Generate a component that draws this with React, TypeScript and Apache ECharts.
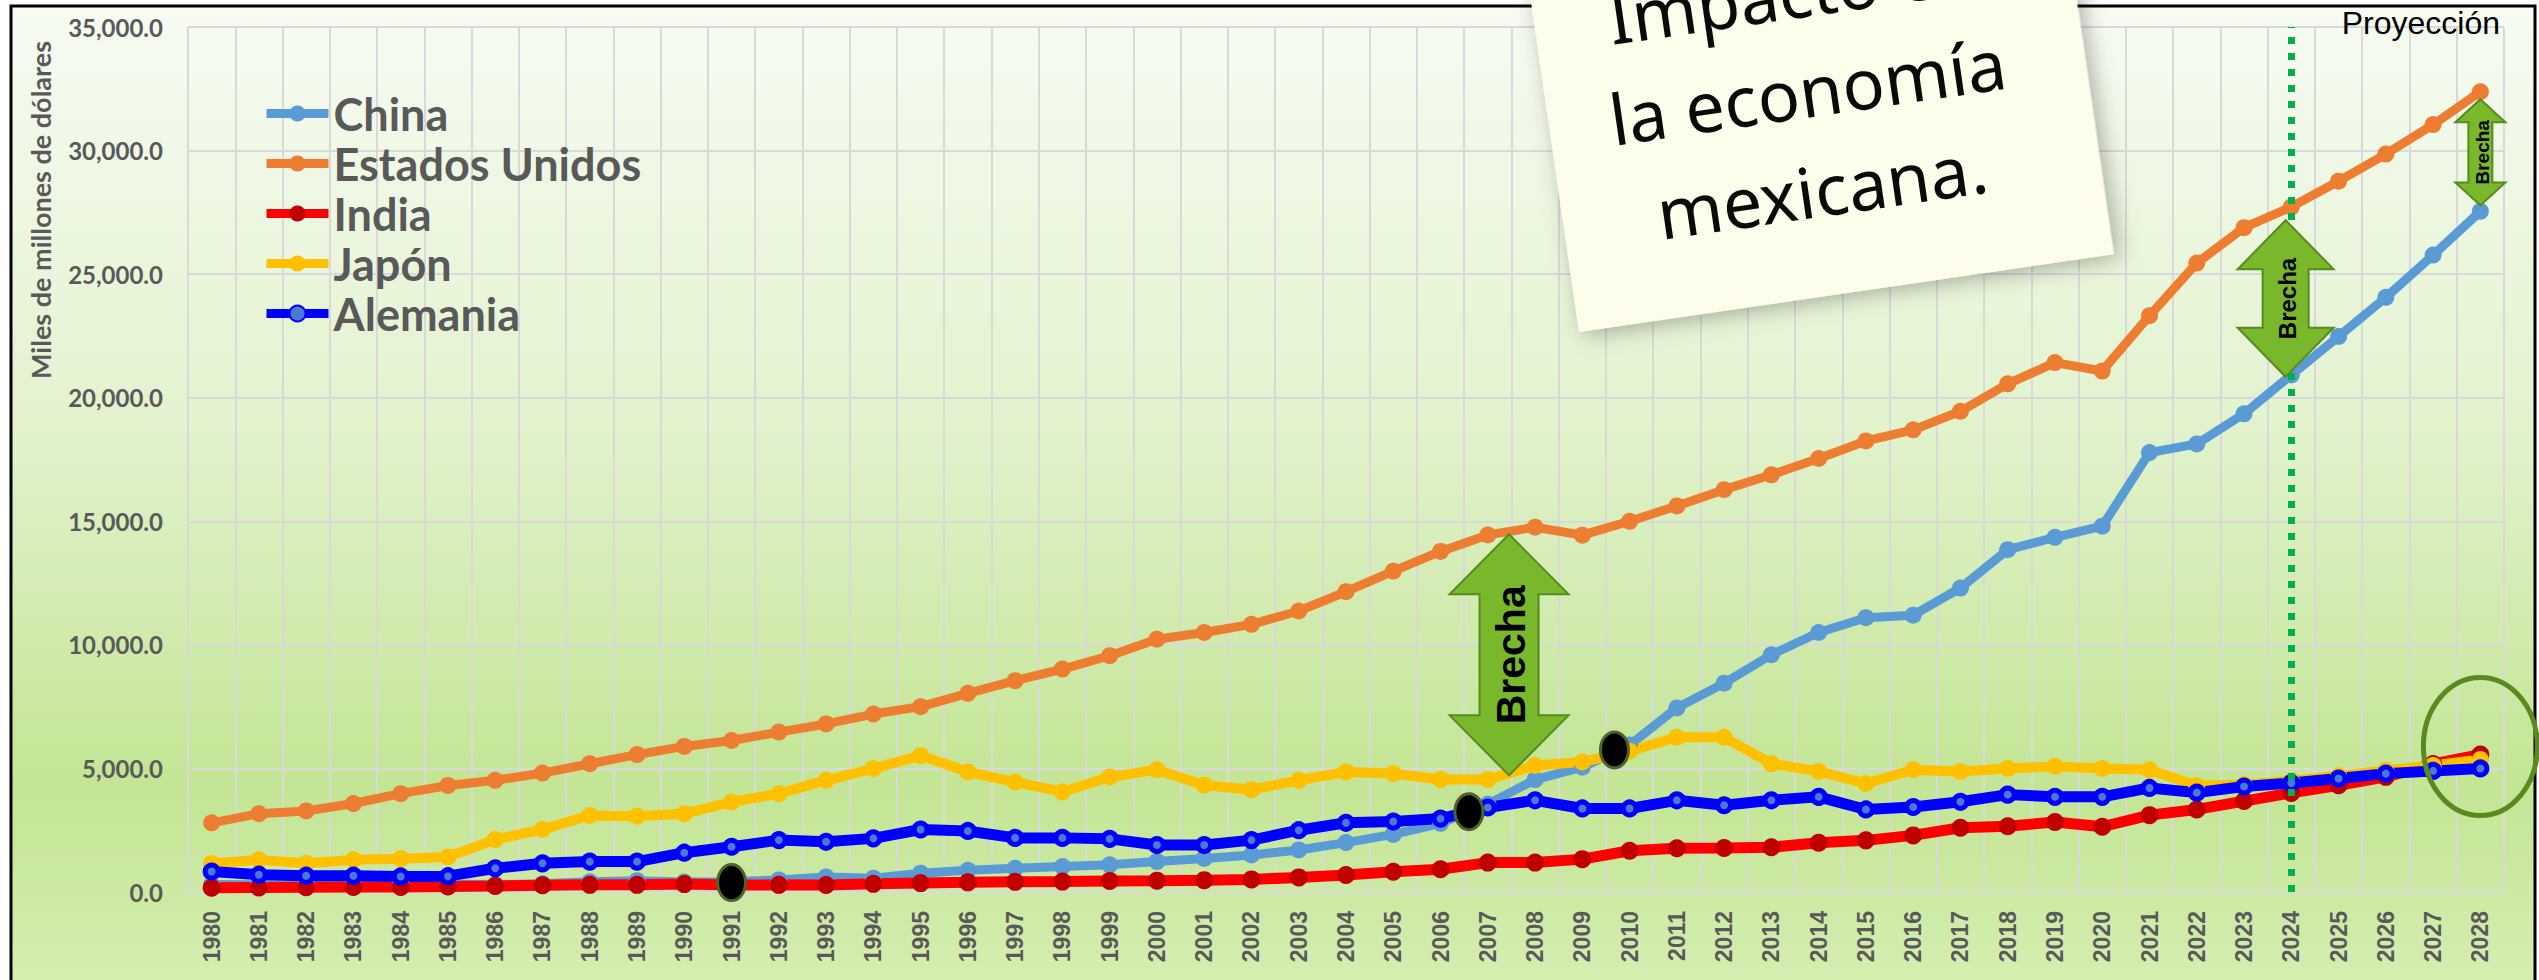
import React, { useEffect, useRef } from "react";
import * as echarts from "echarts";

const years = [
  "1980", "1981", "1982", "1983", "1984", "1985", "1986", "1987", "1988", "1989",
  "1990", "1991", "1992", "1993", "1994", "1995", "1996", "1997", "1998", "1999",
  "2000", "2001", "2002", "2003", "2004", "2005", "2006", "2007", "2008", "2009",
  "2010", "2011", "2012", "2013", "2014", "2015", "2016", "2017", "2018", "2019",
  "2020", "2021", "2022", "2023", "2024", "2025", "2026", "2027", "2028",
];

const china = [
  300, 290, 285, 300, 310, 310, 300, 330, 410, 460,
  400, 410, 490, 610, 560, 760, 880, 960, 1030, 1100,
  1230, 1360, 1500, 1700, 2000, 2330, 2780, 3550, 4550, 5050,
  5950, 7450, 8450, 9600, 10500, 11100, 11200, 12300, 13850, 14350,
  14800, 17780, 18130, 19350, 20920, 22480, 24060, 25770, 27540,
];

const usa = [
  2800, 3170, 3280, 3580, 3980, 4310, 4520, 4810, 5190, 5560,
  5890, 6130, 6470, 6800, 7200, 7500, 8040, 8550, 9020, 9560,
  10230, 10500, 10830, 11370, 12150, 12980, 13780, 14450, 14760, 14440,
  15000, 15620, 16280, 16880, 17540, 18250, 18700, 19450, 20560, 21420,
  21080, 23320, 25450, 26880, 27720, 28760, 29860, 31050, 32380,
];

const india = [
  170, 180, 190, 200, 200, 220, 240, 270, 290, 290,
  320, 280, 290, 280, 330, 360, 390, 410, 420, 450,
  460, 480, 510, 590, 690, 820, 920, 1190, 1190, 1330,
  1670, 1770, 1780, 1810, 1990, 2090, 2290, 2600, 2660, 2830,
  2640, 3110, 3340, 3680, 4010, 4320, 4660, 5180, 5560,
];

const japan = [
  1150, 1300, 1160, 1300, 1350, 1420, 2120, 2530, 3100, 3070,
  3170, 3640, 3980, 4520, 4990, 5520, 4860, 4450, 4050, 4650,
  4950, 4320, 4140, 4520, 4860, 4790, 4550, 4550, 5120, 5260,
  5700, 6260, 6260, 5190, 4880, 4390, 4950, 4880, 5000, 5080,
  5000, 4950, 4300, 4350, 4500, 4700, 4930, 5120, 5360,
];

const germany = [
  830, 700, 660, 660, 630, 640, 960, 1160, 1230, 1230,
  1590, 1830, 2100, 2030, 2170, 2530, 2470, 2190, 2190, 2150,
  1900, 1900, 2100, 2500, 2800, 2850, 2970, 3420, 3710, 3380,
  3380, 3710, 3510, 3710, 3850, 3340, 3440, 3650, 3940, 3850,
  3850, 4210, 4020, 4270, 4410, 4590, 4790, 4900, 5000,
];

const seriesNames = ["China", "Estados Unidos", "India", "Japón", "Alemania"];
const yAxisTitle = "Miles de millones de dólares";
const projectionLabel = "Proyección";
const projectionYear = "2024";
const noteLines = ["Impacto en", "la economía", "mexicana."];
const gapLabel = "Brecha";

// annotation anchors: fractional category index + value
const gapArrowAt = [27.45, 43.88, 48.21];
const gapArrowTop = [14475, 27180, 32080];
const gapArrowBottom = [4720, 20850, 27780];
const crossingAt = [11, 26.6, 29.68];
const crossingValue = [380, 3250, 5750];
const focusAt = 48;
const focusValue = 5887;

const arrowGeom = [
  { headW: 119, shaftW: 59, headH: 60, font: 41 },
  { headW: 96, shaftW: 46, headH: 49, font: 24 },
  { headW: 50, shaftW: 24, headH: 23, font: 19 },
];

const GRAY = "#595959";
const GRID = "#d9d9d9";

export default function App() {
  const ref = useRef<HTMLDivElement>(null);

  useEffect(() => {
    if (!ref.current) return;
    const chart = echarts.init(ref.current, null, { renderer: "svg" });

    const mk = (
      name: string,
      data: number[],
      color: string,
      lineW: number,
      symSize: number,
      itemStyle: any,
      extra: any = {}
    ) => ({
      name,
      type: "line",
      data,
      symbol: "circle",
      symbolSize: symSize,
      color,
      lineStyle: { color, width: lineW },
      itemStyle,
      z: 2,
      ...extra,
    });

    const option: any = {
      animation: false,
      backgroundColor: "#ffffff",
      grid: { left: 188, right: 35, top: 27, bottom: 88, containLabel: false },
      legend: {
        orient: "vertical",
        left: 257,
        top: 85,
        itemWidth: 62,
        itemHeight: 20,
        itemGap: 3,
        data: seriesNames,
        lineStyle: { width: 9 },
        textStyle: {
          fontFamily: "Lato",
          fontWeight: "bold",
          fontSize: 45,
          lineHeight: 47,
          color: GRAY,
        },
      },
      xAxis: {
        type: "category",
        data: years,
        boundaryGap: true,
        axisLine: { show: true, lineStyle: { color: GRID, width: 2 } },
        axisTick: { show: false },
        splitLine: { show: true, interval: 0, lineStyle: { color: GRID, width: 2 } },
        axisLabel: {
          interval: 0,
          rotate: 90,
          margin: 19,
          fontFamily: "Liberation Sans",
          fontWeight: "bold",
          fontSize: 23,
          color: GRAY,
        },
      },
      yAxis: {
        type: "value",
        min: 0,
        max: 35000,
        interval: 5000,
        axisLine: { show: false },
        axisTick: { show: false },
        splitLine: { show: true, lineStyle: { color: GRID, width: 2 } },
        axisLabel: {
          margin: 25,
          fontFamily: "Lato",
          fontWeight: "bold",
          fontSize: 24,
          color: GRAY,
          formatter: (v: number) =>
            v.toLocaleString("en-US", { minimumFractionDigits: 1, maximumFractionDigits: 1 }),
        },
      },
      series: [
        mk("China", china, "#5b9bd5", 9, 17, { color: "#5b9bd5" }, {
          markLine: {
            silent: true,
            symbol: ["none", "none"],
            label: { show: false },
            lineStyle: { color: "#00b050", width: 7, type: [7, 9] },
            data: [{ xAxis: projectionYear }],
            z: 5,
          },
        }),
        mk("Estados Unidos", usa, "#ed7d31", 9, 17, { color: "#ed7d31" }),
        mk("India", india, "#ff0000", 11, 18, { color: "#c00000" }),
        mk("Japón", japan, "#ffc000", 10, 17, { color: "#ffc000" }),
        mk("Alemania", germany, "#0000ff", 11, 13, {
          color: "#4a7bd0",
          borderColor: "#0000ff",
          borderWidth: 5,
        }),
      ],
    };

    chart.setOption(option);

    const xPix = (idx: number) => {
      const i0 = Math.floor(idx);
      const i1 = Math.min(i0 + 1, years.length - 1);
      const p0 = chart.convertToPixel({ xAxisIndex: 0 } as any, years[i0]) as number;
      const p1 = chart.convertToPixel({ xAxisIndex: 0 } as any, years[i1]) as number;
      return p0 + (p1 - p0) * (idx - i0);
    };
    const yPix = (v: number) => chart.convertToPixel({ yAxisIndex: 0 } as any, v) as number;

    const graphics: any[] = [];

    // background frame
    graphics.push({
      type: "rect",
      z: -10,
      silent: true,
      shape: { x: 11, y: 6, width: 2524, height: 1000 },
      style: {
        fill: {
          type: "linear",
          x: 0,
          y: 0,
          x2: 0,
          y2: 1,
          colorStops: [
            { offset: 0, color: "#f7fbf2" },
            { offset: 0.4, color: "#e3f3d0" },
            { offset: 0.78, color: "#c3e594" },
            { offset: 1, color: "#d6efb4" },
          ],
        },
        stroke: "#000000",
        lineWidth: 3,
      },
    });

    const txtStyle = (text: string, size: number, weight: string, family: string, fill: string, align = "center") => ({
      text,
      fontSize: size,
      fontWeight: weight,
      fontFamily: family,
      fill,
      align,
      verticalAlign: "middle",
      textAlign: align,
      textVerticalAlign: "middle",
    });

    // y-axis title
    graphics.push({
      type: "text",
      x: 40,
      y: 210,
      rotation: Math.PI / 2,
      z: 5,
      style: txtStyle(yAxisTitle, 27, "bold", "Lato", GRAY),
    });

    // projection label
    graphics.push({
      type: "text",
      x: 2500,
      y: 23,
      z: 5,
      style: txtStyle(projectionLabel, 32, "normal", "Liberation Sans", "#000000", "right"),
    });

    // gap arrows
    gapArrowAt.forEach((at, i) => {
      const g = arrowGeom[i];
      const cx = xPix(at);
      const ty = yPix(gapArrowTop[i]);
      const by = yPix(gapArrowBottom[i]);
      const hw = g.headW / 2;
      const sw = g.shaftW / 2;
      const hh = g.headH;
      graphics.push({
        type: "polygon",
        z: 20,
        shape: {
          points: [
            [cx, ty],
            [cx + hw, ty + hh],
            [cx + sw, ty + hh],
            [cx + sw, by - hh],
            [cx + hw, by - hh],
            [cx, by],
            [cx - hw, by - hh],
            [cx - sw, by - hh],
            [cx - sw, ty + hh],
            [cx - hw, ty + hh],
          ],
        },
        style: { fill: "#78b82a", stroke: "#578a1f", lineWidth: 2 },
      });
      graphics.push({
        type: "text",
        z: 21,
        x: cx + 2,
        y: (ty + by) / 2,
        rotation: Math.PI / 2,
        style: txtStyle(gapLabel, g.font, "bold", "Liberation Sans", "#000000"),
      });
    });

    // crossing points
    crossingAt.forEach((at, i) => {
      graphics.push({
        type: "ellipse",
        z: 20,
        shape: { cx: xPix(at), cy: yPix(crossingValue[i]), rx: 14, ry: 18 },
        style: { fill: "#000000", stroke: "#4f6228", lineWidth: 3 },
      });
    });

    // focus ellipse
    graphics.push({
      type: "ellipse",
      z: 20,
      shape: { cx: xPix(focusAt), cy: yPix(focusValue), rx: 57, ry: 69 },
      style: { fill: "none", stroke: "#5a8a1e", lineWidth: 5 },
    });

    // sticky note
    const noteChildren: any[] = [
      {
        type: "rect",
        shape: { x: 0, y: -420, width: 540, height: 420 },
        style: {
          fill: "#fcfdea",
          shadowBlur: 22,
          shadowColor: "rgba(0,0,0,0.3)",
          shadowOffsetX: 5,
          shadowOffsetY: 4,
        },
      },
    ];
    const baselines = [-284, -184, -84];
    noteLines.forEach((line, i) => {
      noteChildren.push({
        type: "text",
        x: 261,
        y: baselines[i] - 22,
        style: txtStyle(line, 70, "normal", "Noto Sans", "#0a0a0a"),
      });
    });
    graphics.push({
      type: "group",
      x: 1579,
      y: 332,
      rotation: 0.145,
      z: 30,
      children: noteChildren.map((c) => ({ ...c, z: 30 })),
    });

    chart.setOption({ graphic: graphics });

    return () => chart.dispose();
  }, []);

  return (
    <div
      style={{
        position: "fixed",
        left: 0,
        top: 0,
        width: 2539,
        height: 980,
        overflow: "hidden",
        background: "#ffffff",
      }}
    >
      <div ref={ref} style={{ width: 2539, height: 980 }} />
    </div>
  );
}
